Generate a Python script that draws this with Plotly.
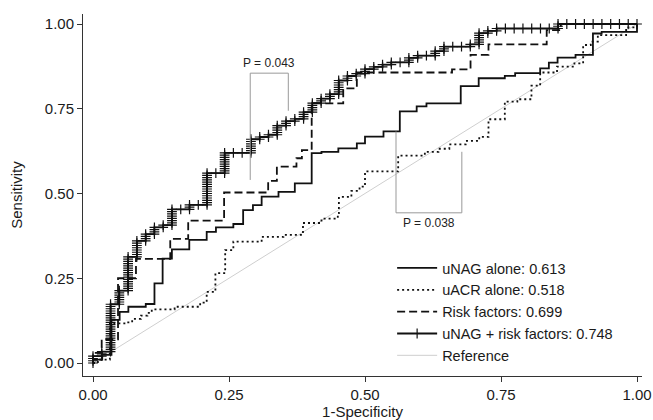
import plotly.graph_objects as go

FONT = "Liberation Sans, Arial, sans-serif"

# ---------------- data ----------------
N_NEG = 62   # number of negatives (horizontal step unit)
N_POS = 150  # number of positives (vertical step unit)

# uNAG + risk factors: cumulative false-positive / true-positive counts at each cut
combo_fp = [0, 1, 2, 3, 4, 5, 6, 7, 8, 9, 11, 13, 15, 18, 19, 20, 21, 22, 23, 24,
            25, 26, 27, 28, 29, 30, 31, 32, 33, 34, 36, 37, 39, 40, 43, 44, 45, 46, 53, 62]
combo_tp = [3, 5, 26, 32, 47, 54, 57, 60, 61, 68, 70, 84, 93, 99, 100, 101, 105, 107, 108, 111,
            115, 117, 119, 125, 127, 128, 130, 131, 132, 133, 135, 136, 138, 140, 141, 146, 147, 148, 150, 150]

# uNAG alone (step corners: go right to fpr, then up to tpr)
unag_fpr = [0, 0.017, 0.034, 0.049, 0.065, 0.097, 0.113, 0.128, 0.145, 0.177, 0.209, 0.226,
            0.258, 0.276, 0.294, 0.31, 0.341, 0.371, 0.402, 0.42, 0.451, 0.485, 0.5, 0.534,
            0.564, 0.595, 0.613, 0.676, 0.709, 0.757, 0.776, 0.822, 0.838, 0.854, 0.887,
            0.919, 0.935, 0.985, 1.0]
unag_tpr = [0.01, 0.024, 0.127, 0.151, 0.166, 0.174, 0.235, 0.308, 0.335, 0.363, 0.387, 0.40,
            0.41, 0.451, 0.466, 0.491, 0.505, 0.53, 0.619, 0.623, 0.633, 0.648, 0.668, 0.683,
            0.742, 0.757, 0.766, 0.817, 0.84, 0.847, 0.855, 0.869, 0.886, 0.901, 0.909,
            0.972, 0.977, 0.977, 1.0]

# uACR alone
uacr_fpr = [0.009, 0.031, 0.062, 0.072, 0.088, 0.1, 0.108, 0.15, 0.197, 0.209, 0.225, 0.243,
            0.258, 0.31, 0.35, 0.386, 0.42, 0.45, 0.452, 0.475, 0.49, 0.5, 0.561, 0.61,
            0.635, 0.655, 0.685, 0.71, 0.727, 0.757, 0.78, 0.806, 0.822, 0.853, 0.885,
            0.901, 0.915, 0.928, 0.98, 1.0]
uacr_tpr = [0.01, 0.117, 0.12, 0.13, 0.14, 0.148, 0.158, 0.166, 0.178, 0.21, 0.265, 0.333,
            0.358, 0.372, 0.378, 0.413, 0.426, 0.442, 0.49, 0.508, 0.52, 0.565, 0.612, 0.623,
            0.632, 0.645, 0.655, 0.667, 0.719, 0.771, 0.778, 0.818, 0.857, 0.874, 0.884,
            0.938, 0.948, 0.967, 0.99, 1.0]

# Risk factors
risk_fpr = [0, 0.016, 0.046, 0.079, 0.142, 0.175, 0.241, 0.322, 0.338, 0.374, 0.384, 0.402,
            0.46, 0.485, 0.66, 0.694, 0.727, 0.834, 0.86, 1.0]
risk_tpr = [0.03, 0.07, 0.25, 0.307, 0.366, 0.42, 0.503, 0.537, 0.579, 0.604, 0.628, 0.766,
            0.81, 0.857, 0.866, 0.909, 0.94, 0.982, 1.0, 1.0]

names = ["uNAG alone: 0.613", "uACR alone: 0.518", "Risk factors: 0.699",
         "uNAG + risk factors: 0.748", "Reference"]

# P-value brackets
p1_x = [0.289, 0.289, 0.359, 0.359]
p1_y = [0.54, 0.855, 0.855, 0.744]
p1_label = "P = 0.043"
p2_x = [0.557, 0.557, 0.678, 0.678]
p2_y = [0.683, 0.443, 0.443, 0.623]
p2_label = "P = 0.038"

x_ticks = [0, 0.25, 0.5, 0.75, 1.0]
x_ticktext = ["0.00", "0.25", "0.50", "0.75", "1.00"]
y_ticks = [0, 0.25, 0.5, 0.75, 1.0]
y_ticktext = ["0.00", "0.25", "0.50", "0.75", "1.00"]


def step_path(xs, ys):
    px, py = [0.0], [0.0]
    for x, y in zip(xs, ys):
        px += [x, x]
        py += [py[-1], y]
    return px, py


def roc_points(fp, tp):
    px, py = [0], [0]
    cf, ct = 0, 0
    for f, t in zip(fp, tp):
        while cf < f:
            cf += 1
            px.append(cf / N_NEG)
            py.append(ct / N_POS)
        while ct < t:
            ct += 1
            px.append(cf / N_NEG)
            py.append(ct / N_POS)
    return px, py


fig = go.Figure()
LW = 1.8
INK = "#111111"

# reference diagonal
fig.add_trace(go.Scatter(x=[0, 1], y=[0, 1], mode="lines", name=names[4],
                         line=dict(color="#cfcfcf", width=1), legendrank=5))

ux, uy = step_path(unag_fpr, unag_tpr)
fig.add_trace(go.Scatter(x=ux, y=uy, mode="lines", name=names[0],
                         line=dict(color=INK, width=LW), legendrank=1))

ax_, ay_ = step_path(uacr_fpr, uacr_tpr)
fig.add_trace(go.Scatter(x=ax_, y=ay_, mode="lines", name=names[1],
                         line=dict(color=INK, width=LW, dash="2px,3px"), legendrank=2))

rx, ry = step_path(risk_fpr, risk_tpr)
fig.add_trace(go.Scatter(x=rx, y=ry, mode="lines", name=names[2],
                         line=dict(color=INK, width=LW, dash="8px,4px"), legendrank=3))

cx, cy = roc_points(combo_fp, combo_tp)
fig.add_trace(go.Scatter(x=cx, y=cy, mode="lines+markers", name=names[3],
                         line=dict(color=INK, width=LW),
                         marker=dict(symbol="cross-thin", size=7,
                                     line=dict(color=INK, width=1.2)),
                         legendrank=4))

# brackets
for bx, by in ((p1_x, p1_y), (p2_x, p2_y)):
    fig.add_trace(go.Scatter(x=bx, y=by, mode="lines", showlegend=False,
                             hoverinfo="skip", line=dict(color="#999999", width=1)))

fig.add_annotation(x=(p1_x[0] + p1_x[2]) / 2, y=p1_y[1], text=p1_label, showarrow=False,
                   yanchor="bottom", yshift=1, font=dict(family=FONT, size=12, color="#222"))
fig.add_annotation(x=(p2_x[0] + p2_x[2]) / 2, y=p2_y[1], text=p2_label, showarrow=False,
                   yanchor="top", yshift=-1, font=dict(family=FONT, size=12, color="#222"))

fig.update_layout(
    width=653, height=420,
    margin=dict(l=83, r=11, t=14, b=44),
    paper_bgcolor="white", plot_bgcolor="white",
    font=dict(family=FONT, color="#1a1a1a", size=14),
    showlegend=True,
    legend=dict(x=0.553, y=(376 - 252) / 362, xanchor="left", yanchor="top",
                bgcolor="rgba(0,0,0,0)", font=dict(family=FONT, size=14.5, color="#1a1a1a"),
                itemwidth=40, tracegroupgap=0),
)
fig.update_xaxes(range=[-0.01838, 1.00919], tickvals=x_ticks, ticktext=x_ticktext,
                 automargin=False,
                 showgrid=False, zeroline=False, showline=True, linecolor="#333", linewidth=1,
                 ticks="outside", ticklen=5, tickcolor="#333",
                 tickfont=dict(family=FONT, size=15, color="#1a1a1a"),
                 title=dict(text="1-Specificity", font=dict(family=FONT, size=15, color="#1a1a1a"),
                            standoff=3))
fig.update_yaxes(range=[-0.03835, 1.0295], tickvals=y_ticks, ticktext=y_ticktext,
                 automargin=False,
                 showgrid=False, zeroline=False, showline=True, linecolor="#333", linewidth=1,
                 ticks="outside", ticklen=5, tickcolor="#333",
                 tickfont=dict(family=FONT, size=15, color="#1a1a1a"),
                 title=dict(text="Sensitivity", font=dict(family=FONT, size=15, color="#1a1a1a"),
                            standoff=18))

# remove the default page margin so the 653x420 figure fills the window exactly
fig.write_html("out.html",
               config={"displayModeBar": False},
               post_script="document.body.style.margin='0';document.body.style.overflow='hidden';")
